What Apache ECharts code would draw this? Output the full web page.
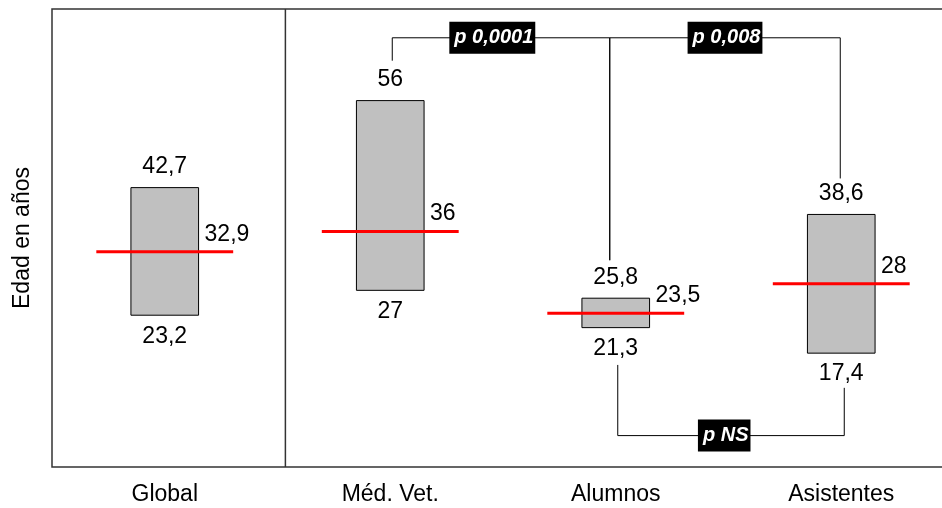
<!DOCTYPE html>
<html>
<head>
<meta charset="utf-8">
<script src="https://cdn.jsdelivr.net/npm/echarts@6/dist/echarts.min.js"></script>
<style>
  html, body { margin: 0; padding: 0; background: #fff; }
  #main { width: 942px; height: 508px; }
</style>
</head>
<body>
<div id="main"></div>
<script>
// datos
const categories = ['Global', 'Méd. Vet.', 'Alumnos', 'Asistentes'];
const lowValues = [23.2, 27, 21.3, 17.4];
const highValues = [42.7, 56, 25.8, 38.6];
const medianValues = [32.9, 36, 23.5, 28];

// comparaciones (desde, hasta, nivel, extremo desde, extremo hasta, etiqueta)
const pairFrom = [1, 2, 2];
const pairTo = [2, 3, 3];
const pairLevel = [65.6, 65.6, 4.8];
const pairFromEnd = [62.1, 31.6, 15.6];
const pairToEnd = [31.6, 44.1, 12.1];
const pairLabels = ['p 0,0001', 'p 0,008', 'p NS'];

const FONT = '"Liberation Sans", Arial, sans-serif';
// pequeños desplazamientos de las patas (px) y posición de la etiqueta
const legShift = [[2, -6], [-6, -1], [2, 3]];
const labelPos = [0.46, 0.5, 0.47];

function fmt(v) {
  return String(v).replace('.', ',');
}

let chart = echarts.init(document.getElementById('main'));

function renderBox(params, api) {
  const i = api.value(0);
  const lo = api.coord([i, api.value(1)]);
  const hi = api.coord([i, api.value(2)]);
  const med = api.coord([i, api.value(3)]);
  const band = api.size([1, 0])[0];
  const bw = band * 0.3;
  const lw = band * 0.607;
  const txt = { fill: '#000', font: '23px ' + FONT, verticalAlign: 'middle' };
  return {
    type: 'group',
    children: [
      {
        type: 'rect',
        shape: { x: lo[0] - bw / 2, y: hi[1], width: bw, height: lo[1] - hi[1] },
        style: { fill: '#c0c0c0', stroke: '#000', lineWidth: 1 }
      },
      {
        type: 'line',
        shape: { x1: med[0] - lw / 2, y1: med[1], x2: med[0] + lw / 2, y2: med[1] },
        style: { stroke: '#ff0000', lineWidth: 3 }
      },
      { type: 'text', style: Object.assign({ text: fmt(api.value(2)), x: hi[0], y: hi[1] - 21, align: 'center' }, txt) },
      { type: 'text', style: Object.assign({ text: fmt(api.value(1)), x: lo[0], y: lo[1] + 21, align: 'center' }, txt) },
      { type: 'text', style: Object.assign({ text: fmt(api.value(3)), x: med[0] + bw / 2 + 6, y: med[1] - 17.5, align: 'left' }, txt) }
    ]
  };
}

function renderPair(params, api) {
  const k = params.dataIndex;
  const a = api.value(0), b = api.value(1);
  const lvl = api.value(2);
  const pA = api.coord([a, lvl]);
  const pB = api.coord([b, lvl]);
  const eA = api.coord([a, api.value(3)]);
  const eB = api.coord([b, api.value(4)]);
  const xa = pA[0] + legShift[k][0];
  const xb = pB[0] + legShift[k][1];
  const ln = { stroke: '#000', lineWidth: 1 };
  return {
    type: 'group',
    children: [
      { type: 'polyline', shape: { points: [[xa, eA[1]], [xa, pA[1]], [xb, pB[1]], [xb, eB[1]]] }, style: Object.assign({ fill: null }, ln) },
      {
        type: 'text',
        style: {
          text: pairLabels[k],
          x: xa + (xb - xa) * labelPos[k],
          y: pA[1],
          align: 'center',
          verticalAlign: 'middle',
          fill: '#fff',
          font: 'italic bold 20px ' + FONT,
          backgroundColor: '#000',
          padding: [6, 2, 6, 5]
        }
      }
    ]
  };
}

function renderDivider(params, api) {
  const p0 = api.coord([0, 0]);
  const p1 = api.coord([0, 70]);
  const band = api.size([1, 0])[0];
  const x = p0[0] + band * 0.535;
  return {
    type: 'line',
    shape: { x1: x, y1: p0[1], x2: x, y2: p1[1] },
    style: { stroke: '#333', lineWidth: 1.5 }
  };
}

let boxData = categories.map((c, i) => [i, lowValues[i], highValues[i], medianValues[i]]);
let pairData = pairFrom.map((f, i) => [f, pairTo[i], pairLevel[i], pairFromEnd[i], pairToEnd[i]]);

let option = {
  animation: false,
  grid: {
    left: 52,
    top: 9,
    width: 902,
    height: 458,
    outerBoundsMode: 'none',
    show: true,
    borderColor: '#333',
    borderWidth: 1.5
  },
  xAxis: {
    type: 'category',
    data: categories,
    axisLine: { show: false },
    axisTick: { show: false },
    axisLabel: { color: '#000', fontSize: 23, fontFamily: FONT, margin: 16 }
  },
  yAxis: {
    type: 'value',
    min: 0,
    max: 70,
    name: 'Edad en años',
    nameLocation: 'middle',
    nameGap: 18,
    nameTextStyle: { color: '#000', fontSize: 23, fontFamily: FONT },
    axisLine: { show: false },
    axisTick: { show: false },
    axisLabel: { show: false },
    splitLine: { show: false }
  },
  series: [
    { type: 'custom', renderItem: renderDivider, data: [[0, 0]], silent: true },
    { type: 'custom', renderItem: renderPair, data: pairData, silent: true },
    { type: 'custom', renderItem: renderBox, data: boxData, silent: true }
  ]
};
chart.setOption(option);
</script>
</body>
</html>
